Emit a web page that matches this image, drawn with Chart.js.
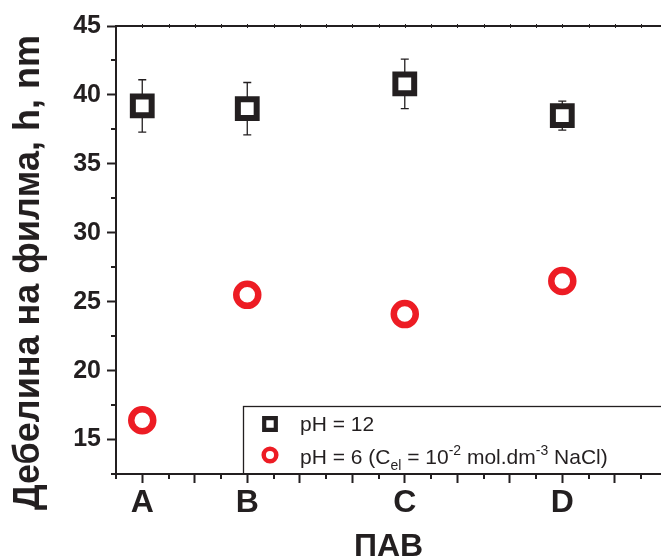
<!DOCTYPE html>
<html>
<head>
<meta charset="utf-8">
<script src="https://cdn.jsdelivr.net/npm/chart.js@4.4.1/dist/chart.umd.min.js"></script>
<style>
  html, body { margin: 0; padding: 0; background: #fff; }
</style>
</head>
<body>
<canvas id="film-chart" width="661" height="560"></canvas>
<script>
// surfactants (ПАВ) and their place on the x axis
const categories = ["A", "B", "C", "D"];
const categoryPos = [1, 3, 6, 9];

// film thickness h, nm
const thicknessPH12 = [39.2, 39.0, 40.8, 38.5];
const errorPH12 = [1.9, 1.9, 1.8, 1.05];
const thicknessPH6 = [16.4, 25.5, 24.1, 26.5];

const yTicks = [15, 20, 25, 30, 35, 40, 45];
const xTicks = [1, 2, 3, 4, 5, 6, 7, 8, 9, 10];

const ink = "#231f20";
const red = "#ed1c24";
const family = "'Liberation Sans', Arial, sans-serif";

function font(size, weight) {
  return (weight || "normal") + " " + size + "px " + family;
}

// error bars, minor ticks, top frame line, axis titles and the legend box
const decorPlugin = {
  id: "decor",
  beforeDatasetsDraw(chart) {
    const { ctx, scales: { x, y } } = chart;
    ctx.save();
    ctx.strokeStyle = ink;
    ctx.lineWidth = 1.3;
    categoryPos.forEach((pos, i) => {
      const px = x.getPixelForValue(pos);
      const top = y.getPixelForValue(thicknessPH12[i] + errorPH12[i]);
      const bot = y.getPixelForValue(thicknessPH12[i] - errorPH12[i]);
      ctx.beginPath();
      ctx.moveTo(px, top); ctx.lineTo(px, bot);
      ctx.moveTo(px - 4, top); ctx.lineTo(px + 4, top);
      ctx.moveTo(px - 4, bot); ctx.lineTo(px + 4, bot);
      ctx.stroke();
    });
    ctx.restore();
  },
  afterDraw(chart) {
    const { ctx, chartArea: area, scales: { x, y } } = chart;
    ctx.save();
    ctx.strokeStyle = ink;

    // top frame line with tiny ticks
    ctx.lineWidth = 2;
    ctx.beginPath();
    ctx.moveTo(area.left, area.top);
    ctx.lineTo(area.right, area.top);
    ctx.stroke();
    ctx.lineWidth = 1;
    ctx.beginPath();
    for (let v = 1; v < x.max; v += 0.5) {
      const px = Math.round(x.getPixelForValue(v)) + 0.5;
      ctx.moveTo(px, area.top - 2);
      ctx.lineTo(px, area.top + 2);
    }
    ctx.stroke();

    // minor ticks
    ctx.lineWidth = 2;
    ctx.beginPath();
    for (let v = 0.5; v < x.max; v += 1) {
      const px = Math.round(x.getPixelForValue(v));
      ctx.moveTo(px, area.bottom);
      ctx.lineTo(px, area.bottom + 5);
    }
    for (let v = 17.5; v < 45; v += 5) {
      const py = Math.round(y.getPixelForValue(v));
      ctx.moveTo(area.left, py);
      ctx.lineTo(area.left - 5, py);
    }
    ctx.moveTo(area.left - 5, area.bottom);
    ctx.lineTo(area.left, area.bottom);
    ctx.stroke();

    // axis titles
    ctx.fillStyle = ink;
    ctx.textAlign = "center";
    ctx.textBaseline = "alphabetic";
    ctx.font = font(32, "bold");
    ctx.fillText("ПАВ", (area.left + area.right) / 2, 556);
    ctx.save();
    ctx.translate(38.5, 272.5);
    ctx.rotate(-Math.PI / 2);
    ctx.font = font(36, "bold");
    ctx.fillText("Дебелина на филма, h, nm", 0, 0);
    ctx.restore();

    // legend
    const lx = 243.5, ly = 406.5;
    ctx.lineWidth = 1.3;
    ctx.strokeRect(lx, ly, area.right + 10 - lx, area.bottom - ly);

    ctx.lineWidth = 4.2;
    ctx.fillStyle = "#fff";
    ctx.beginPath();
    ctx.rect(270 - 5.8, 424 - 5.8, 11.6, 11.6);
    ctx.fill();
    ctx.stroke();
    ctx.strokeStyle = red;
    ctx.lineWidth = 4.5;
    ctx.beginPath();
    ctx.arc(270, 455, 6.3, 0, Math.PI * 2);
    ctx.fill();
    ctx.stroke();

    ctx.fillStyle = ink;
    ctx.textAlign = "left";
    ctx.font = font(21);
    ctx.fillText("pH = 12", 300, 431);

    const parts = [
      ["pH = 6 (C", 21, 0],
      ["el", 14, 6],
      [" = 10", 21, 0],
      ["-2", 14, -9],
      [" mol.dm", 21, 0],
      ["-3", 14, -9],
      [" NaCl)", 21, 0]
    ];
    let tx = 300;
    parts.forEach(([t, size, dy]) => {
      ctx.font = font(size);
      ctx.fillText(t, tx, 464 + dy);
      tx += ctx.measureText(t).width;
    });
    ctx.restore();
  }
};

const ctx = document.getElementById("film-chart").getContext("2d");
const filmChart = new Chart(ctx, {
  type: "scatter",
  data: {
    datasets: [
      {
        label: "pH = 12",
        data: categoryPos.map((pos, i) => ({ x: pos, y: thicknessPH12[i] })),
        pointStyle: "rect",
        pointRadius: 13.3,
        borderWidth: 6,
        borderColor: ink,
        backgroundColor: "#fff"
      },
      {
        label: "pH = 6 (Cel = 10-2 mol.dm-3 NaCl)",
        data: categoryPos.map((pos, i) => ({ x: pos, y: thicknessPH6[i] })),
        pointStyle: "circle",
        pointRadius: 11,
        borderWidth: 6.5,
        borderColor: red,
        backgroundColor: "#fff"
      }
    ]
  },
  options: {
    responsive: false,
    animation: false,
    events: [],
    devicePixelRatio: 1,
    layout: {
      autoPadding: false,
      padding: { top: 26, right: 0, left: 0, bottom: 0 }
    },
    plugins: {
      legend: { display: false },
      tooltip: { enabled: false }
    },
    scales: {
      x: {
        type: "linear",
        min: 0.5,
        max: 10.88,
        afterBuildTicks: (scale) => {
          scale.ticks = xTicks.map((v) => ({ value: v }));
        },
        afterFit: (scale) => {
          scale.height = 86;
          scale.paddingLeft = 0;
          scale.paddingRight = 0;
        },
        ticks: {
          autoSkip: false,
          maxRotation: 0,
          padding: 1,
          color: ink,
          font: { family: family, size: 32, weight: "bold" },
          callback: (value) => {
            const i = categoryPos.indexOf(value);
            return i >= 0 ? categories[i] : "";
          }
        },
        grid: {
          drawOnChartArea: false,
          drawTicks: true,
          tickLength: 9,
          tickWidth: 2,
          tickColor: ink
        },
        border: { display: true, color: ink, width: 2 }
      },
      y: {
        min: 12.5,
        max: 45,
        afterBuildTicks: (scale) => {
          scale.ticks = yTicks.map((v) => ({ value: v }));
        },
        afterFit: (scale) => {
          scale.width = 116;
        },
        ticks: {
          padding: 6,
          color: ink,
          font: { family: family, size: 25, weight: "bold" }
        },
        grid: {
          drawOnChartArea: false,
          drawTicks: true,
          tickLength: 9,
          tickWidth: 2,
          tickColor: ink
        },
        border: { display: true, color: ink, width: 2 }
      }
    }
  },
  plugins: [decorPlugin]
});
</script>
</body>
</html>
